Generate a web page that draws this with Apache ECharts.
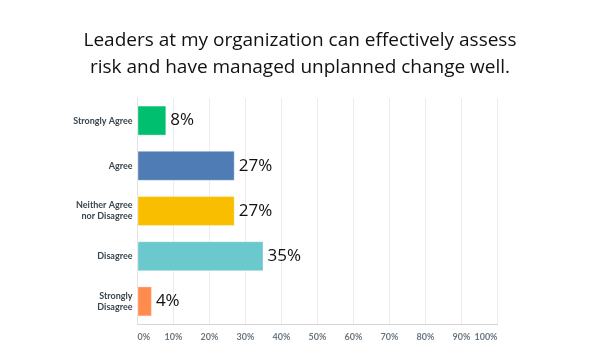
<!DOCTYPE html>
<html>
<head>
<meta charset="utf-8">
<script src="https://cdn.jsdelivr.net/npm/echarts@6/dist/echarts.min.js"></script>
<style>
html,body{margin:0;padding:0;background:#fff;}
#chart{width:600px;height:361px;}
</style>
</head>
<body>
<div id="chart"></div>
<script>
var titleText = "Leaders at my organization can effectively assess\nrisk and have managed unplanned change well.";
var categories = ["Strongly Agree", "Agree", "Neither Agree\nnor Disagree", "Disagree", "Strongly\nDisagree"];
var values = [8, 27, 27, 35, 4];
var barColors = ["#00bf6f", "#507cb6", "#f9be00", "#6bc8cd", "#ff8b4f"];
var xTicks = [0, 10, 20, 30, 40, 50, 60, 70, 80, 90, 100];

var chart = echarts.init(document.getElementById('chart'), null, {renderer: 'canvas'});
chart.setOption({
  animation: false,
  backgroundColor: '#ffffff',
  title: {
    text: titleText,
    left: 'center',
    top: 22,
    textStyle: {
      fontFamily: 'Open Sans',
      fontWeight: 'normal',
      fontSize: 19,
      lineHeight: 27,
      color: '#111111'
    }
  },
  grid: {left: 137.5, right: 102.5, top: 98, bottom: 37, containLabel: false},
  xAxis: {
    type: 'value',
    min: xTicks[0],
    max: xTicks[xTicks.length - 1],
    interval: 10,
    axisLine: {show: true, lineStyle: {color: '#d6d6d6', width: 1}},
    axisTick: {show: false},
    splitLine: {show: true, lineStyle: {color: '#ececec', width: 1}},
    axisLabel: {
      formatter: '{value}%',
      fontFamily: 'Lato',
      fontWeight: 'bold',
      fontSize: 9,
      color: '#6b7780',
      margin: 9,
      alignMinLabel: 'left',
      alignMaxLabel: 'right'
    }
  },
  yAxis: {
    type: 'category',
    data: categories,
    inverse: true,
    axisLine: {show: true, lineStyle: {color: '#e2e2e2', width: 1}},
    axisTick: {show: false},
    axisLabel: {
      fontFamily: 'Lato',
      fontWeight: 'bold',
      fontSize: 9,
      lineHeight: 11,
      color: '#3a4650',
      margin: 5,
      align: 'right'
    }
  },
  series: [{
    type: 'bar',
    barWidth: 30,
    data: values.map(function (v, i) {
      return {
        value: v,
        itemStyle: {color: barColors[i], borderColor: 'rgba(255,255,255,0.35)', borderWidth: 1}
      };
    }),
    label: {
      show: true,
      position: 'right',
      distance: 4,
      formatter: '{c}%',
      fontFamily: 'Open Sans',
      fontSize: 17,
      color: '#111111'
    }
  }]
});
</script>
</body>
</html>
